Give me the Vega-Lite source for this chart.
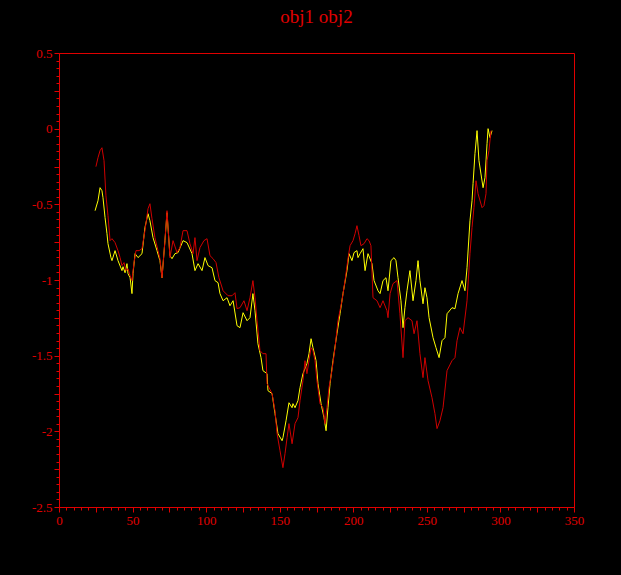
{
  "$schema": "https://vega.github.io/schema/vega-lite/v6.json",
  "autosize": "none",
  "width": 515,
  "height": 454,
  "padding": {"left": 59, "top": 53, "right": 47, "bottom": 68},
  "background": "black",
  "title": {"text": "obj1 obj2", "color": "#e00000", "font": "Liberation Serif", "fontSize": 19, "fontWeight": "normal", "anchor": "middle", "offset": 20},
  "config": {
    "view": {"stroke": "#e00000", "strokeWidth": 1, "fill": "black"},
    "axis": {"domainColor": "#e00000", "tickColor": "#e00000", "labelColor": "#e00000", "labelFont": "Liberation Serif", "labelFontSize": 13, "grid": false, "title": null, "domainWidth": 1, "tickWidth": 1}
  },
  "datasets": {
    "lines": [
      {"series":"obj1","x":24.5,"y":-0.542},{"series":"obj1","x":26.5,"y":-0.476},{"series":"obj1","x":27.9,"y":-0.390},{"series":"obj1","x":29.2,"y":-0.410},{"series":"obj1","x":29.9,"y":-0.456},{"series":"obj1","x":31.3,"y":-0.588},{"series":"obj1","x":32.6,"y":-0.694},{"series":"obj1","x":33.3,"y":-0.760},{"series":"obj1","x":35.3,"y":-0.852},{"series":"obj1","x":36.0,"y":-0.872},
      {"series":"obj1","x":38.1,"y":-0.806},{"series":"obj1","x":40.1,"y":-0.872},{"series":"obj1","x":42.8,"y":-0.938},{"series":"obj1","x":43.5,"y":-0.912},{"series":"obj1","x":44.9,"y":-0.952},{"series":"obj1","x":46.2,"y":-0.892},{"series":"obj1","x":46.9,"y":-0.958},{"series":"obj1","x":48.3,"y":-0.985},{"series":"obj1","x":49.6,"y":-1.090},{"series":"obj1","x":50.3,"y":-0.958},
      {"series":"obj1","x":51.7,"y":-0.826},{"series":"obj1","x":53.7,"y":-0.852},{"series":"obj1","x":56.4,"y":-0.826},{"series":"obj1","x":58.4,"y":-0.654},{"series":"obj1","x":60.5,"y":-0.562},{"series":"obj1","x":61.8,"y":-0.608},{"series":"obj1","x":63.9,"y":-0.720},{"series":"obj1","x":66.6,"y":-0.806},{"series":"obj1","x":68.6,"y":-0.872},{"series":"obj1","x":70.0,"y":-0.985},
      {"series":"obj1","x":72.0,"y":-0.740},{"series":"obj1","x":73.4,"y":-0.555},{"series":"obj1","x":75.4,"y":-0.839},{"series":"obj1","x":76.8,"y":-0.859},{"series":"obj1","x":78.8,"y":-0.826},{"series":"obj1","x":80.9,"y":-0.819},{"series":"obj1","x":84.3,"y":-0.740},{"series":"obj1","x":87.0,"y":-0.753},{"series":"obj1","x":90.4,"y":-0.826},{"series":"obj1","x":92.4,"y":-0.938},
      {"series":"obj1","x":94.5,"y":-0.892},{"series":"obj1","x":97.2,"y":-0.938},{"series":"obj1","x":99.2,"y":-0.852},{"series":"obj1","x":101.3,"y":-0.905},{"series":"obj1","x":104.0,"y":-0.919},{"series":"obj1","x":106.0,"y":-1.004},{"series":"obj1","x":108.1,"y":-1.018},{"series":"obj1","x":109.4,"y":-1.090},{"series":"obj1","x":111.5,"y":-1.137},{"series":"obj1","x":114.2,"y":-1.117},
      {"series":"obj1","x":116.2,"y":-1.170},{"series":"obj1","x":118.3,"y":-1.137},{"series":"obj1","x":121.0,"y":-1.302},{"series":"obj1","x":123.0,"y":-1.315},{"series":"obj1","x":125.1,"y":-1.216},{"series":"obj1","x":127.8,"y":-1.269},{"series":"obj1","x":129.8,"y":-1.249},{"series":"obj1","x":131.8,"y":-1.090},{"series":"obj1","x":133.2,"y":-1.203},{"series":"obj1","x":135.2,"y":-1.421},
      {"series":"obj1","x":137.3,"y":-1.513},{"series":"obj1","x":138.6,"y":-1.599},{"series":"obj1","x":141.4,"y":-1.619},{"series":"obj1","x":142.0,"y":-1.731},{"series":"obj1","x":144.8,"y":-1.751},{"series":"obj1","x":146.8,"y":-1.883},{"series":"obj1","x":148.8,"y":-2.015},{"series":"obj1","x":151.6,"y":-2.062},{"series":"obj1","x":152.2,"y":-2.042},{"series":"obj1","x":154.3,"y":-1.930},
      {"series":"obj1","x":156.3,"y":-1.811},{"series":"obj1","x":158.4,"y":-1.844},{"series":"obj1","x":159.0,"y":-1.817},{"series":"obj1","x":160.4,"y":-1.844},{"series":"obj1","x":162.4,"y":-1.797},{"series":"obj1","x":163.8,"y":-1.711},{"series":"obj1","x":165.8,"y":-1.619},{"series":"obj1","x":168.5,"y":-1.553},{"series":"obj1","x":169.9,"y":-1.487},{"series":"obj1","x":171.3,"y":-1.388},
      {"series":"obj1","x":172.6,"y":-1.447},{"series":"obj1","x":174.7,"y":-1.533},{"series":"obj1","x":176.0,"y":-1.685},{"series":"obj1","x":178.1,"y":-1.817},{"series":"obj1","x":180.1,"y":-1.910},{"series":"obj1","x":181.5,"y":-1.996},{"series":"obj1","x":182.8,"y":-1.844},{"series":"obj1","x":184.2,"y":-1.685},{"series":"obj1","x":186.2,"y":-1.533},{"series":"obj1","x":188.9,"y":-1.355},
      {"series":"obj1","x":191.0,"y":-1.223},{"series":"obj1","x":193.0,"y":-1.090},{"series":"obj1","x":195.7,"y":-0.938},{"series":"obj1","x":197.1,"y":-0.826},{"series":"obj1","x":199.1,"y":-0.872},{"series":"obj1","x":200.5,"y":-0.819},{"series":"obj1","x":202.5,"y":-0.806},{"series":"obj1","x":203.2,"y":-0.852},{"series":"obj1","x":204.6,"y":-0.826},{"series":"obj1","x":206.6,"y":-0.793},
      {"series":"obj1","x":208.0,"y":-0.938},{"series":"obj1","x":210.0,"y":-0.826},{"series":"obj1","x":212.7,"y":-0.892},{"series":"obj1","x":214.1,"y":-1.004},{"series":"obj1","x":216.8,"y":-1.071},{"series":"obj1","x":218.2,"y":-1.090},{"series":"obj1","x":220.2,"y":-1.004},{"series":"obj1","x":222.2,"y":-0.985},{"series":"obj1","x":223.6,"y":-1.071},{"series":"obj1","x":225.6,"y":-0.872},
      {"series":"obj1","x":227.7,"y":-0.852},{"series":"obj1","x":229.0,"y":-0.872},{"series":"obj1","x":230.4,"y":-0.985},{"series":"obj1","x":232.4,"y":-1.137},{"series":"obj1","x":233.8,"y":-1.315},{"series":"obj1","x":235.1,"y":-1.183},{"series":"obj1","x":236.5,"y":-1.071},{"series":"obj1","x":238.5,"y":-0.938},{"series":"obj1","x":240.6,"y":-1.137},{"series":"obj1","x":242.6,"y":-1.004},
      {"series":"obj1","x":244.0,"y":-0.872},{"series":"obj1","x":245.3,"y":-1.004},{"series":"obj1","x":247.4,"y":-1.157},{"series":"obj1","x":248.7,"y":-1.051},{"series":"obj1","x":250.1,"y":-1.117},{"series":"obj1","x":251.5,"y":-1.249},{"series":"obj1","x":254.2,"y":-1.381},{"series":"obj1","x":256.2,"y":-1.447},{"series":"obj1","x":258.3,"y":-1.513},{"series":"obj1","x":260.3,"y":-1.401},
      {"series":"obj1","x":262.3,"y":-1.381},{"series":"obj1","x":263.7,"y":-1.223},{"series":"obj1","x":267.1,"y":-1.183},{"series":"obj1","x":269.1,"y":-1.190},{"series":"obj1","x":271.2,"y":-1.090},{"series":"obj1","x":273.9,"y":-1.004},{"series":"obj1","x":275.9,"y":-1.071},{"series":"obj1","x":277.3,"y":-0.919},{"series":"obj1","x":279.3,"y":-0.608},{"series":"obj1","x":280.7,"y":-0.476},
      {"series":"obj1","x":281.4,"y":-0.363},{"series":"obj1","x":282.7,"y":-0.165},{"series":"obj1","x":284.1,"y":-0.013},{"series":"obj1","x":285.4,"y":-0.211},{"series":"obj1","x":288.2,"y":-0.390},{"series":"obj1","x":289.5,"y":-0.324},{"series":"obj1","x":290.9,"y":-0.099},{"series":"obj1","x":291.6,"y":0.0},{"series":"obj1","x":292.9,"y":-0.059},{"series":"obj1","x":294.3,"y":-0.013},

      {"series":"obj2","x":25.1,"y":-0.251},{"series":"obj2","x":26.5,"y":-0.192},{"series":"obj2","x":27.9,"y":-0.145},{"series":"obj2","x":29.2,"y":-0.126},{"series":"obj2","x":30.6,"y":-0.211},{"series":"obj2","x":31.9,"y":-0.444},{"series":"obj2","x":33.3,"y":-0.575},{"series":"obj2","x":34.7,"y":-0.740},{"series":"obj2","x":36.0,"y":-0.727},{"series":"obj2","x":38.1,"y":-0.753},
      {"series":"obj2","x":40.1,"y":-0.806},{"series":"obj2","x":41.5,"y":-0.852},{"series":"obj2","x":42.8,"y":-0.905},{"series":"obj2","x":44.2,"y":-0.885},{"series":"obj2","x":45.5,"y":-0.938},{"series":"obj2","x":46.9,"y":-0.925},{"series":"obj2","x":48.3,"y":-0.971},{"series":"obj2","x":49.6,"y":-1.004},{"series":"obj2","x":51.0,"y":-0.885},{"series":"obj2","x":52.3,"y":-0.806},
      {"series":"obj2","x":54.4,"y":-0.806},{"series":"obj2","x":56.4,"y":-0.793},{"series":"obj2","x":58.4,"y":-0.674},{"series":"obj2","x":60.5,"y":-0.529},{"series":"obj2","x":61.8,"y":-0.496},{"series":"obj2","x":63.2,"y":-0.595},{"series":"obj2","x":65.2,"y":-0.720},{"series":"obj2","x":67.3,"y":-0.806},{"series":"obj2","x":68.6,"y":-0.859},{"series":"obj2","x":70.0,"y":-0.985},
      {"series":"obj2","x":72.0,"y":-0.740},{"series":"obj2","x":73.4,"y":-0.542},{"series":"obj2","x":75.4,"y":-0.852},{"series":"obj2","x":77.5,"y":-0.740},{"series":"obj2","x":80.2,"y":-0.819},{"series":"obj2","x":82.2,"y":-0.786},{"series":"obj2","x":84.3,"y":-0.674},{"series":"obj2","x":87.0,"y":-0.674},{"series":"obj2","x":89.0,"y":-0.760},{"series":"obj2","x":91.1,"y":-0.826},
      {"series":"obj2","x":92.4,"y":-0.720},{"series":"obj2","x":93.8,"y":-0.872},{"series":"obj2","x":95.8,"y":-0.786},{"series":"obj2","x":98.5,"y":-0.740},{"series":"obj2","x":100.6,"y":-0.727},{"series":"obj2","x":102.6,"y":-0.839},{"series":"obj2","x":104.7,"y":-0.859},{"series":"obj2","x":106.7,"y":-0.885},{"series":"obj2","x":108.7,"y":-0.985},{"series":"obj2","x":111.5,"y":-1.071},
      {"series":"obj2","x":114.9,"y":-1.104},{"series":"obj2","x":117.6,"y":-1.104},{"series":"obj2","x":119.6,"y":-1.084},{"series":"obj2","x":121.0,"y":-1.189},{"series":"obj2","x":123.0,"y":-1.183},{"series":"obj2","x":125.7,"y":-1.137},{"series":"obj2","x":127.8,"y":-1.203},{"series":"obj2","x":129.8,"y":-1.117},{"series":"obj2","x":131.8,"y":-1.004},{"series":"obj2","x":133.2,"y":-1.117},
      {"series":"obj2","x":134.6,"y":-1.269},{"series":"obj2","x":136.6,"y":-1.467},{"series":"obj2","x":138.6,"y":-1.487},{"series":"obj2","x":140.7,"y":-1.487},{"series":"obj2","x":141.4,"y":-1.685},{"series":"obj2","x":144.8,"y":-1.751},{"series":"obj2","x":146.8,"y":-1.864},{"series":"obj2","x":148.2,"y":-2.015},{"series":"obj2","x":150.2,"y":-2.128},{"series":"obj2","x":152.2,"y":-2.240},
      {"series":"obj2","x":153.6,"y":-2.148},{"series":"obj2","x":155.0,"y":-2.042},{"series":"obj2","x":156.3,"y":-1.949},{"series":"obj2","x":158.4,"y":-2.082},{"series":"obj2","x":160.4,"y":-1.949},{"series":"obj2","x":162.4,"y":-1.910},{"series":"obj2","x":163.8,"y":-1.797},{"series":"obj2","x":165.8,"y":-1.665},{"series":"obj2","x":167.2,"y":-1.533},{"series":"obj2","x":168.5,"y":-1.619},
      {"series":"obj2","x":169.9,"y":-1.533},{"series":"obj2","x":171.3,"y":-1.447},{"series":"obj2","x":172.6,"y":-1.467},{"series":"obj2","x":174.0,"y":-1.533},{"series":"obj2","x":175.3,"y":-1.665},{"series":"obj2","x":177.4,"y":-1.817},{"series":"obj2","x":179.4,"y":-1.844},{"series":"obj2","x":180.8,"y":-1.949},{"series":"obj2","x":182.1,"y":-1.844},{"series":"obj2","x":183.5,"y":-1.711},
      {"series":"obj2","x":185.5,"y":-1.599},{"series":"obj2","x":187.6,"y":-1.447},{"series":"obj2","x":189.6,"y":-1.269},{"series":"obj2","x":192.3,"y":-1.137},{"series":"obj2","x":194.4,"y":-1.004},{"series":"obj2","x":196.4,"y":-0.859},{"series":"obj2","x":197.8,"y":-0.773},{"series":"obj2","x":199.8,"y":-0.740},{"series":"obj2","x":201.2,"y":-0.694},{"series":"obj2","x":202.5,"y":-0.641},
      {"series":"obj2","x":203.9,"y":-0.707},{"series":"obj2","x":205.2,"y":-0.773},{"series":"obj2","x":207.3,"y":-0.760},{"series":"obj2","x":209.3,"y":-0.727},{"series":"obj2","x":210.7,"y":-0.740},{"series":"obj2","x":212.0,"y":-0.773},{"series":"obj2","x":213.4,"y":-1.117},{"series":"obj2","x":216.1,"y":-1.137},{"series":"obj2","x":218.2,"y":-1.183},{"series":"obj2","x":220.2,"y":-1.137},
      {"series":"obj2","x":222.9,"y":-1.203},{"series":"obj2","x":223.6,"y":-1.249},{"series":"obj2","x":225.0,"y":-1.090},{"series":"obj2","x":227.0,"y":-1.024},{"series":"obj2","x":229.7,"y":-1.004},{"series":"obj2","x":231.7,"y":-1.223},{"series":"obj2","x":233.8,"y":-1.513},{"series":"obj2","x":235.1,"y":-1.269},{"series":"obj2","x":237.2,"y":-1.249},{"series":"obj2","x":239.9,"y":-1.269},
      {"series":"obj2","x":241.3,"y":-1.355},{"series":"obj2","x":243.3,"y":-1.269},{"series":"obj2","x":245.3,"y":-1.487},{"series":"obj2","x":247.4,"y":-1.645},{"series":"obj2","x":248.7,"y":-1.513},{"series":"obj2","x":250.8,"y":-1.665},{"series":"obj2","x":253.5,"y":-1.778},{"series":"obj2","x":255.5,"y":-1.883},{"series":"obj2","x":256.9,"y":-1.982},{"series":"obj2","x":258.9,"y":-1.930},
      {"series":"obj2","x":261.0,"y":-1.844},{"series":"obj2","x":263.7,"y":-1.599},{"series":"obj2","x":267.1,"y":-1.533},{"series":"obj2","x":269.1,"y":-1.513},{"series":"obj2","x":270.5,"y":-1.401},{"series":"obj2","x":272.5,"y":-1.315},{"series":"obj2","x":274.6,"y":-1.355},{"series":"obj2","x":277.3,"y":-1.137},{"series":"obj2","x":279.3,"y":-0.826},{"series":"obj2","x":280.7,"y":-0.654},
      {"series":"obj2","x":282.0,"y":-0.522},{"series":"obj2","x":283.4,"y":-0.344},{"series":"obj2","x":284.8,"y":-0.430},{"series":"obj2","x":287.5,"y":-0.522},{"series":"obj2","x":288.8,"y":-0.509},{"series":"obj2","x":290.2,"y":-0.430},{"series":"obj2","x":290.9,"y":-0.211},{"series":"obj2","x":292.2,"y":-0.145},{"series":"obj2","x":293.6,"y":-0.013}
    ]
  },
  "layer": [
    {
      "data": {"name": "lines"},
      "mark": {"type": "line", "strokeWidth": 1, "clip": true},
      "encoding": {
        "x": {"field": "x", "type": "quantitative",
          "scale": {"domain": [0, 350], "nice": false, "zero": false},
          "axis": {
            "values": [0,5,10,15,20,25,30,35,40,45,50,55,60,65,70,75,80,85,90,95,100,105,110,115,120,125,130,135,140,145,150,155,160,165,170,175,180,185,190,195,200,205,210,215,220,225,230,235,240,245,250,255,260,265,270,275,280,285,290,295,300,305,310,315,320,325,330,335,340,345,350],
            "tickCount": 1000,
            "labelExpr": "datum.value % 50 === 0 ? '' + round(datum.value) : ''",
            "tickSize": {"condition": {"test": "datum.value % 25 === 0", "value": 5}, "value": 3},
            "labelPadding": 2, "labelFlush": false, "labelOverlap": false, "labelBound": false
          }
        },
        "y": {"field": "y", "type": "quantitative",
          "scale": {"domain": [-2.5, 0.5], "nice": false, "zero": false},
          "axis": {
            "values": [-2.5,-2.45,-2.4,-2.35,-2.3,-2.25,-2.2,-2.15,-2.1,-2.05,-2,-1.95,-1.9,-1.85,-1.8,-1.75,-1.7,-1.65,-1.6,-1.55,-1.5,-1.45,-1.4,-1.35,-1.3,-1.25,-1.2,-1.15,-1.1,-1.05,-1,-0.95,-0.9,-0.85,-0.8,-0.75,-0.7,-0.65,-0.6,-0.55,-0.5,-0.45,-0.4,-0.35,-0.3,-0.25,-0.2,-0.15,-0.1,-0.05,0,0.05,0.1,0.15,0.2,0.25,0.3,0.35,0.4,0.45,0.5],
            "tickCount": 1000,
            "labelExpr": "abs(datum.value*2 - round(datum.value*2)) < 1e-6 ? '' + (round(datum.value*2)/2) : ''",
            "tickSize": {"condition": {"test": "abs(datum.value*4 - round(datum.value*4)) < 1e-6", "value": 5}, "value": 3},
            "labelPadding": 2, "labelFlush": false, "labelOverlap": false, "labelBound": false
          }
        },
        "color": {"field": "series", "type": "nominal",
          "scale": {"domain": ["obj1", "obj2"], "range": ["#ffff00", "#d00000"]},
          "legend": null
        },
        "order": {"field": "x", "type": "quantitative"}
      }
    },
    {
      "mark": {"type": "rule", "color": "#e00000", "strokeWidth": 1},
      "encoding": {"y": {"datum": 0, "type": "quantitative"}}
    }
  ]
}
